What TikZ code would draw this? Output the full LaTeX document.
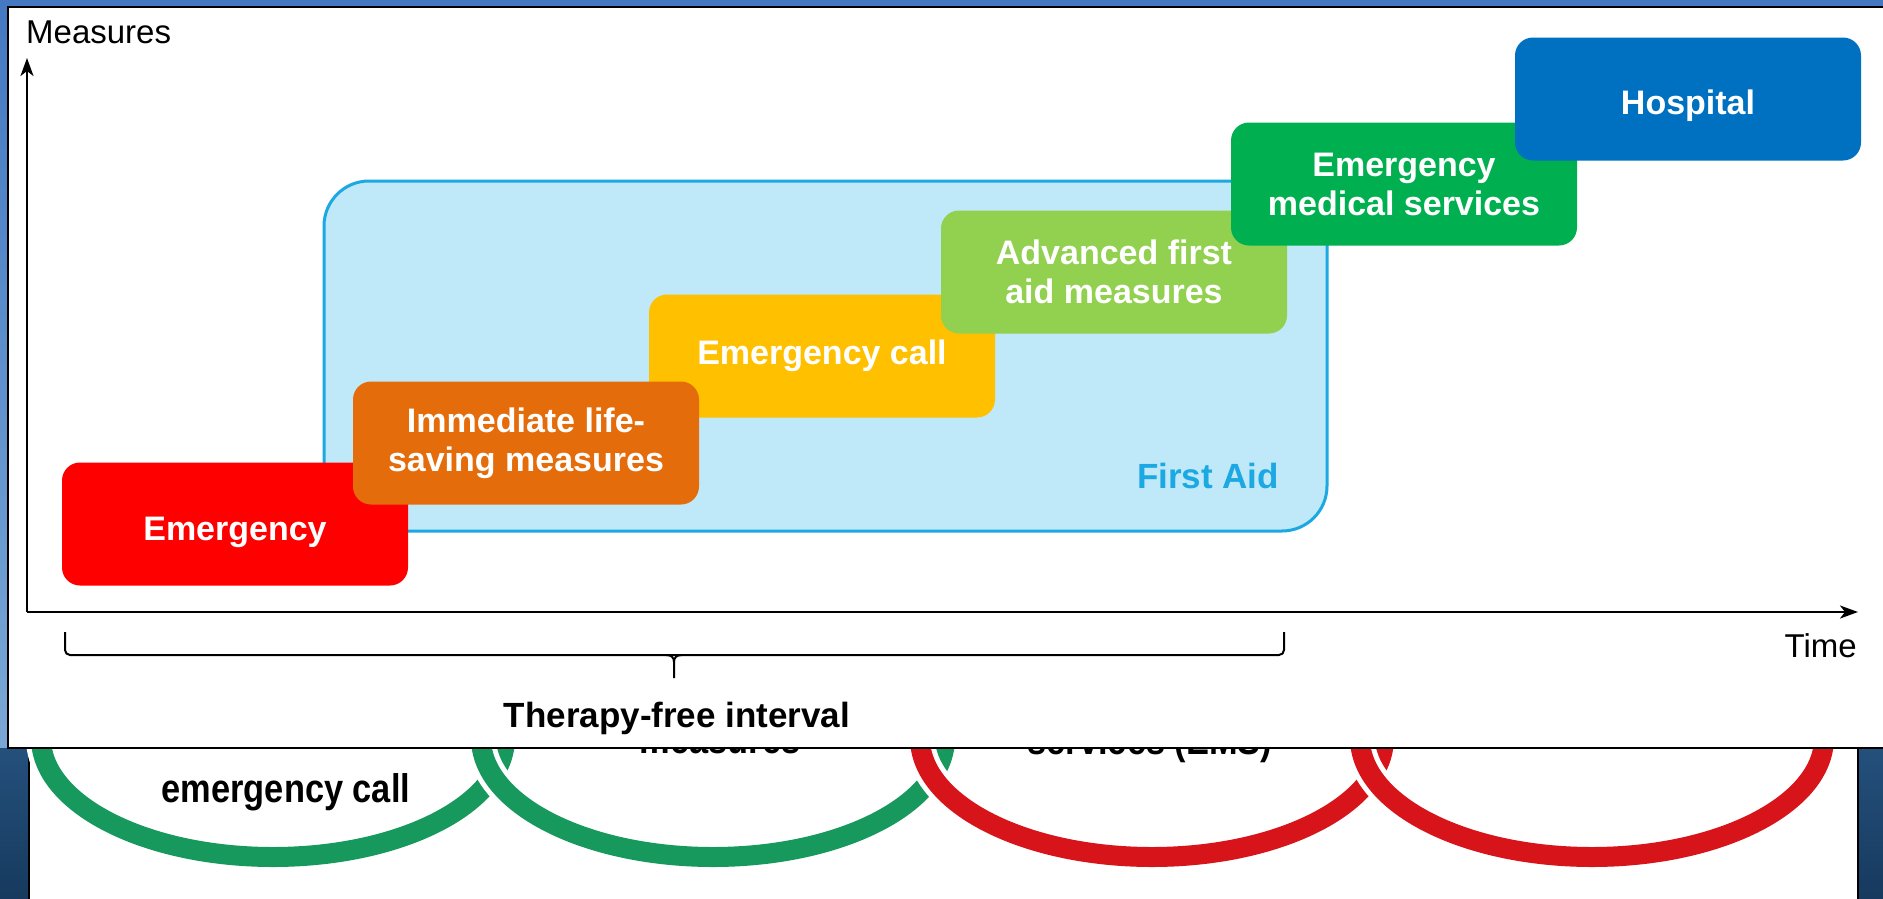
\documentclass[tikz,border=0pt]{standalone}
\usepackage{fontspec}
\setmainfont{Liberation Sans}
\usetikzlibrary{arrows.meta}
\definecolor{bgTop}{HTML}{4479C2}
\definecolor{bgMid}{HTML}{7AA7D6}
\definecolor{bgLowA}{HTML}{24507C}
\definecolor{bgLowB}{HTML}{173A5E}
\definecolor{cRed}{HTML}{FF0000}
\definecolor{cOrange}{HTML}{E46C0A}
\definecolor{cYellow}{HTML}{FFC000}
\definecolor{cLime}{HTML}{92D050}
\definecolor{cGreen}{HTML}{00B050}
\definecolor{cBlue}{HTML}{0070C0}
\definecolor{faFill}{HTML}{BFE9F8}
\definecolor{faLine}{HTML}{1CA8E3}
\definecolor{ringGreen}{HTML}{17985C}
\definecolor{ringRed}{HTML}{D8141B}
\newcommand{\bxfont}{\bfseries\fontsize{34}{39}\selectfont}
\newcommand{\axfont}{\fontsize{33}{38}\selectfont}
\newcommand{\rgtext}[1]{\scalebox{0.86}[1]{\bfseries\fontsize{40}{44}\selectfont #1}}
\newcommand{\lowered}[2]{\raisebox{-#1}[\height][\depth]{#2}}
\begin{document}
\begin{tikzpicture}[x=1pt,y=-1pt,
  stepbox/.style={rounded corners=18pt, inner sep=0pt, text=white, align=center,
    font=\bxfont, minimum width=346pt, minimum height=123pt},
  ring/.style={line width=20pt},
  halo/.style={white, line width=30pt},
  axisline/.style={line width=2.5pt, -{Stealth[length=18pt,width=13pt,inset=5pt]}},
  bracket/.style={line width=2pt, rounded corners=5pt},
  ringlabel/.style={anchor=base, inner sep=0pt, text=black}]
\useasboundingbox (0,0) rectangle (1883,898);
\clip (0,0) rectangle (1883,898);
% background slide
\fill[top color=bgTop, bottom color=bgMid] (0,0) rectangle (1883,748);
\fill[top color=bgLowA, bottom color=bgLowB] (0,748) rectangle (1883,898);
% underlying ring slide
\filldraw[fill=white, draw=black, line width=2pt] (29,560) rectangle (1858,930);
\foreach \cx/\col in {273/ringGreen, 713/ringGreen, 1152/ringRed, 1592/ringRed}{
  \draw[halo] (\cx,738) ellipse [x radius=232, y radius=119];
  \draw[ring, draw=\col] (\cx,738) ellipse [x radius=232, y radius=119];
}
\node[ringlabel] (rl1) at (286,802) {\rgtext{emergency call}};
\node[ringlabel] (rl2) at (720,753) {\rgtext{measures}};
\node[ringlabel] (rl3) at (1150,754) {\rgtext{services (EMS)}};
% overlay panel
\filldraw[fill=white, draw=black, line width=2.5pt] (8,7) rectangle (1900,748);
% axes
\coordinate (origin) at (27,612);
\coordinate (ytip) at (27,58);
\coordinate (xtip) at (1858,612);
\draw[axisline] (origin) -- (ytip);
\draw[axisline] (origin) -- (xtip);
\node[anchor=base west, inner sep=0pt, font=\axfont] (measures) at (26,43) {Measures};
\node[anchor=base east, inner sep=0pt, font=\axfont] (time) at (1857,657) {Time};
% first aid area
\filldraw[fill=faFill, draw=faLine, line width=3pt, rounded corners=45pt] (324,181) rectangle (1327,531);
\node[anchor=base, inner sep=0pt, text=faLine, font=\bfseries\fontsize{35}{40}\selectfont] (firstaid) at (1208,488) {First Aid};
% steps
\node[stepbox, fill=cRed] (emer) at (235,524) {\lowered{8pt}{Emergency}};
\node[stepbox, fill=cYellow] (call) at (822,356) {Emergency call};
\node[stepbox, fill=cOrange] (imm) at (526,443) {Immediate life-\\saving measures};
\node[stepbox, fill=cLime] (adv) at (1114,272) {Advanced first\\aid measures};
\node[stepbox, fill=cGreen] (ems) at (1404,184) {Emergency\\medical services};
\node[stepbox, fill=cBlue] (hosp) at (1688,99) {\lowered{7pt}{Hospital}};
% therapy-free interval bracket
\coordinate (bl) at (65,632);
\coordinate (blc) at (65,655);
\coordinate (brc) at (1284,655);
\coordinate (br) at (1284,632);
\coordinate (bml) at (666,655);
\coordinate (bmr) at (682,655);
\coordinate (bmk) at (674,662);
\coordinate (bmt) at (674,678);
\draw[bracket] (bl) -- (blc) -- (brc) -- (br);
\draw[line width=2pt] (bml) .. controls (671,655) and (674,657) .. (bmk) -- (bmt);
\draw[line width=2pt] (bmr) .. controls (677,655) and (674,657) .. (bmk);
\node[anchor=base, inner sep=0pt, font=\bfseries\fontsize{35}{40}\selectfont] (tfi) at (677,727) {Therapy-free interval};
\end{tikzpicture}
\end{document}
